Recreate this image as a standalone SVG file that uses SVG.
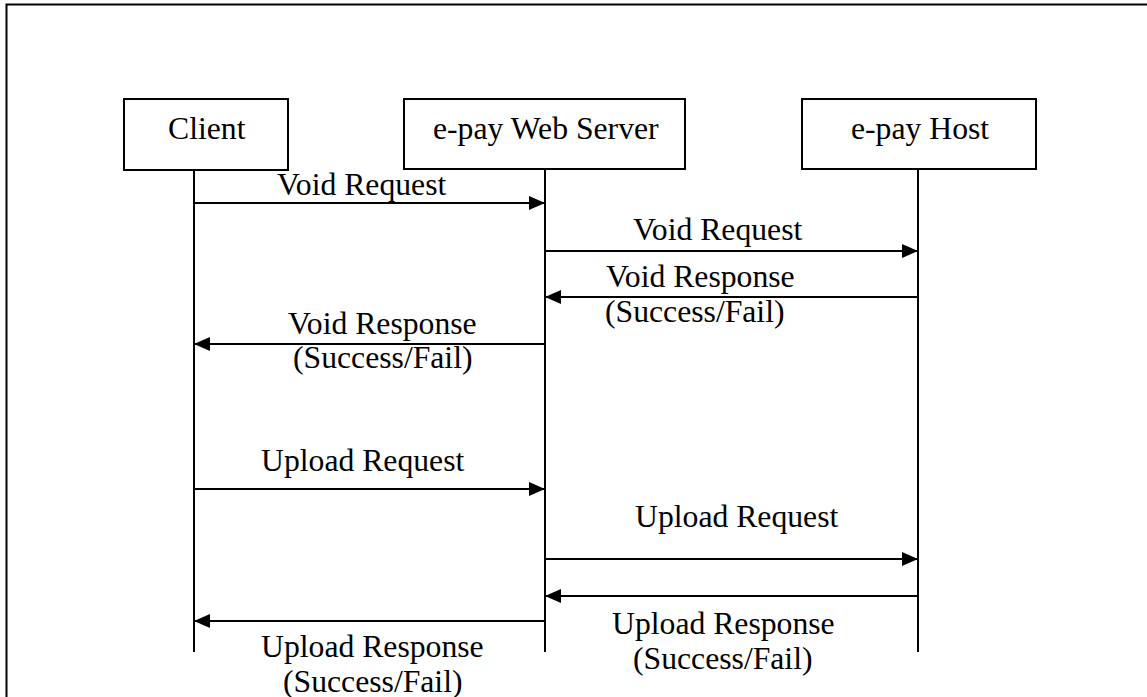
<svg xmlns="http://www.w3.org/2000/svg" width="1147" height="697" viewBox="0 0 1147 697">
<style>
.box{fill:#fff;stroke:#000;stroke-width:2}
.life{stroke:#000;stroke-width:2;fill:none}
.msg{stroke:#000;stroke-width:2;fill:none}
text{font-family:"Liberation Serif","Times New Roman",serif;font-size:31.7px;fill:#000}
</style>
<defs>
<marker id="ah" markerWidth="16" markerHeight="14" refX="16" refY="7" orient="auto" markerUnits="userSpaceOnUse">
<path d="M0,0 L16,7 L0,14 Z" fill="#000"/>
</marker>
</defs>
<rect x="0" y="0" width="1147" height="697" fill="#fff"/>
<path d="M6.5,697 L6.5,4.5 L1147,4.5" fill="none" stroke="#000" stroke-width="2"/>
<g id="client">
<rect class="box" x="124" y="99" width="164" height="71"/>
<text x="168" y="139">Client</text>
<line class="life" x1="194" y1="170" x2="194" y2="652"/>
</g>
<g id="webserver">
<rect class="box" x="404" y="99" width="281" height="70"/>
<text x="433" y="139">e-pay Web Server</text>
<line class="life" x1="545" y1="169" x2="545" y2="652"/>
</g>
<g id="host">
<rect class="box" x="802" y="99" width="234" height="70"/>
<text x="851" y="139">e-pay Host</text>
<line class="life" x1="918" y1="169" x2="918" y2="652"/>
</g>
<g id="connectors">
<line class="msg" x1="194" y1="203" x2="545" y2="203" marker-end="url(#ah)"/>
<line class="msg" x1="545" y1="251" x2="918" y2="251" marker-end="url(#ah)"/>
<line class="msg" x1="918" y1="297" x2="545" y2="297" marker-end="url(#ah)"/>
<line class="msg" x1="545" y1="344" x2="194" y2="344" marker-end="url(#ah)"/>
<line class="msg" x1="194" y1="489" x2="545" y2="489" marker-end="url(#ah)"/>
<line class="msg" x1="545" y1="559" x2="918" y2="559" marker-end="url(#ah)"/>
<line class="msg" x1="918" y1="596" x2="545" y2="596" marker-end="url(#ah)"/>
<line class="msg" x1="545" y1="621" x2="194" y2="621" marker-end="url(#ah)"/>
</g>
<g id="labels">
<text x="277" y="195">Void Request</text>
<text x="633" y="240">Void Request</text>
<text x="606" y="287">Void Response</text>
<text x="605" y="322">(Success/Fail)</text>
<text x="288" y="334">Void Response</text>
<text x="293" y="368">(Success/Fail)</text>
<text x="261" y="471">Upload Request</text>
<text x="635" y="527">Upload Request</text>
<text x="612" y="634">Upload Response</text>
<text x="633" y="669">(Success/Fail)</text>
<text x="261" y="657">Upload Response</text>
<text x="283" y="692">(Success/Fail)</text>
</g>
</svg>
